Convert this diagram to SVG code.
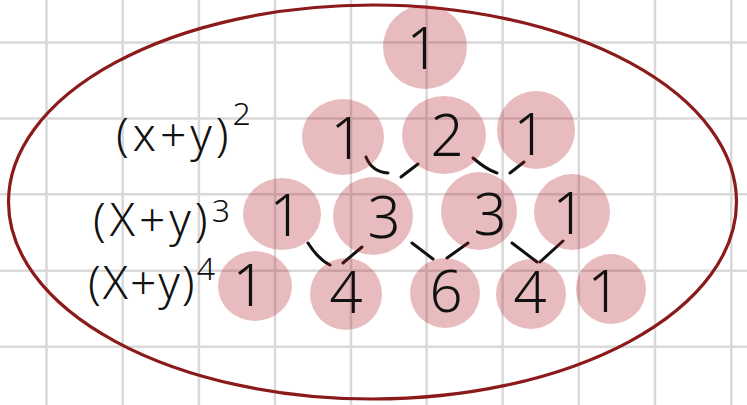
<svg xmlns="http://www.w3.org/2000/svg" width="747" height="405" viewBox="0 0 747 405">
  <style>
    .grid line { stroke: #d9d9d9; stroke-width: 2.5; }
    .blob { fill: #b0181f; fill-opacity: 0.29; }
    .num { font-family: "Noto Sans", "DejaVu Sans", sans-serif; font-weight: 300; font-size: 58px; fill: #111; text-anchor: middle; }
    .lbl { font-family: "Noto Sans", "DejaVu Sans", sans-serif; font-weight: 300; font-size: 46px; fill: #111; letter-spacing: 4px; }
    .sup { font-size: 32px; letter-spacing: 0; }
    .conn path { fill: none; stroke: #111; stroke-width: 3; stroke-linecap: round; }
  </style>
  <rect width="747" height="405" fill="#ffffff"/>
  <g class="grid">
    <line x1="46.5" y1="0" x2="46.5" y2="405"/>
    <line x1="122.7" y1="0" x2="122.7" y2="405"/>
    <line x1="198.9" y1="0" x2="198.9" y2="405"/>
    <line x1="275" y1="0" x2="275" y2="405"/>
    <line x1="351" y1="0" x2="351" y2="405"/>
    <line x1="426.6" y1="0" x2="426.6" y2="405"/>
    <line x1="502.6" y1="0" x2="502.6" y2="405"/>
    <line x1="578.8" y1="0" x2="578.8" y2="405"/>
    <line x1="655" y1="0" x2="655" y2="405"/>
    <line x1="731.3" y1="0" x2="731.3" y2="405"/>
    <line x1="0" y1="42.6" x2="747" y2="42.6"/>
    <line x1="0" y1="118.5" x2="747" y2="118.5"/>
    <line x1="0" y1="194.3" x2="747" y2="194.3"/>
    <line x1="0" y1="270.8" x2="747" y2="270.8"/>
    <line x1="0" y1="346.8" x2="747" y2="346.8"/>
  </g>
  <ellipse cx="372.5" cy="202" rx="364" ry="197" fill="none" stroke="#8b1a1a" stroke-width="3.2"/>
  <g id="labels">
    <text class="lbl" x="116" y="151">(x+y)<tspan class="sup" dy="-26">2</tspan></text>
    <text class="lbl" x="93" y="236">(X+y)<tspan class="sup" dy="-14">3</tspan></text>
    <text class="lbl" x="88" y="299" style="letter-spacing:2px">(X+y)<tspan class="sup" dy="-19">4</tspan></text>
  </g>
  <g class="conn">
    <path d="M366,157 Q372,172 388,173"/>
    <path d="M401,177 L418,164"/>
    <path d="M473,158 Q487,170 497,173"/>
    <path d="M510,173 L524,162"/>
    <path d="M308,243 Q318,259 330,265"/>
    <path d="M343,263 L362,247"/>
    <path d="M412,243 L433,259"/>
    <path d="M447,258 L468,243"/>
    <path d="M512,243 L537,262"/>
    <path d="M540,262 L563,241"/>
  </g>
  <g id="n0"><circle class="blob" cx="425" cy="47" r="42"/><text class="num" x="423" y="69">1</text></g>
  <g id="n1"><ellipse class="blob" cx="343" cy="137" rx="41" ry="38"/><text class="num" x="347" y="159">1</text></g>
  <g id="n2"><ellipse class="blob" cx="444" cy="135" rx="42" ry="39"/><text class="num" x="447" y="156">2</text></g>
  <g id="n3"><circle class="blob" cx="536" cy="130" r="39"/><text class="num" x="530" y="155">1</text></g>
  <g id="n4"><ellipse class="blob" cx="282" cy="214" rx="39" ry="36"/><text class="num" x="286" y="236">1</text></g>
  <g id="n5"><ellipse class="blob" cx="373" cy="216" rx="40" ry="39"/><text class="num" x="384" y="238">3</text></g>
  <g id="n6"><ellipse class="blob" cx="479" cy="211" rx="38" ry="39"/><text class="num" x="490" y="235">3</text></g>
  <g id="n7"><ellipse class="blob" cx="572" cy="212" rx="38" ry="38"/><text class="num" x="569" y="234">1</text></g>
  <g id="n8"><ellipse class="blob" cx="255" cy="286" rx="37" ry="35"/><text class="num" x="249" y="306">1</text></g>
  <g id="n9"><circle class="blob" cx="346" cy="294" r="36"/><text class="num" x="346" y="313">4</text></g>
  <g id="n10"><circle class="blob" cx="445" cy="293" r="35"/><text class="num" x="446" y="312">6</text></g>
  <g id="n11"><circle class="blob" cx="531" cy="294" r="35"/><text class="num" x="530" y="313">4</text></g>
  <g id="n12"><circle class="blob" cx="611" cy="289" r="35"/><text class="num" x="604" y="312">1</text></g>
</svg>
